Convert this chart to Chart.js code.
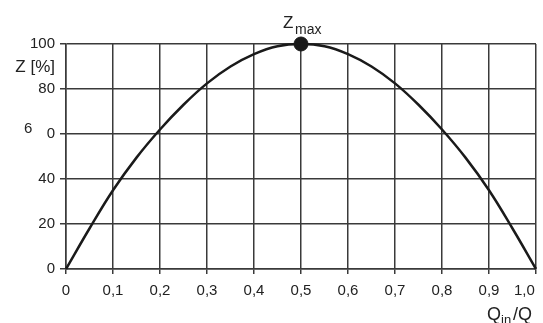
<!DOCTYPE html>
<html>
<head>
<meta charset="utf-8">
<script src="https://cdn.jsdelivr.net/npm/chart.js@4"></script>
<style>
  html, body { margin: 0; padding: 0; background: #fff; }
  #wrap { width: 543px; height: 323px; }
</style>
</head>
<body>
<div id="wrap"><canvas id="grafica_z"></canvas></div>
<script>
// values
const qRatio = [0, 0.05, 0.1, 0.15, 0.2, 0.25, 0.3, 0.35, 0.4, 0.45, 0.5,
                0.55, 0.6, 0.65, 0.7, 0.75, 0.8, 0.85, 0.9, 0.95, 1.0];
const zValues = [0, 18, 35, 49.5, 62, 73, 82.5, 90, 95.5, 99, 100,
                 99, 95.5, 90, 82.5, 73, 62, 49.5, 35, 18, 0];
const zMaxPoint = [0.5, 100];
// last label sits left of its tick in the original, padded with spaces
const xTickLabels = ["0", "0,1", "0,2", "0,3", "0,4", "0,5", "0,6", "0,7", "0,8", "0,9", "1,0\u2003\u2007"];
// the 60 label is printed as a stray "6" and a "0" in the original
const yTickLabels = ["0", "20", "40", "0", "80", "100"];

const FONT = "'Liberation Sans', Arial, sans-serif";
const GRID = "#3a3a3a";

const textos = {
  id: "textos",
  afterDraw(chart) {
    const c = chart.ctx;
    const x = chart.scales.x;
    c.save();
    c.fillStyle = "#222";
    c.textBaseline = "alphabetic";
    // Z [%]
    c.font = "17px " + FONT;
    c.textAlign = "right";
    c.fillText("Z [%]", 55, 72);
    // stray 6
    c.font = "15px " + FONT;
    c.textAlign = "left";
    c.fillText("6", 24, 133);
    // Zmax
    const px = x.getPixelForValue(zMaxPoint[0]);
    c.font = "17px " + FONT;
    c.fillText("Z", px - 18, 28);
    c.font = "14px " + FONT;
    c.fillText("max", px - 6, 34);
    // Qin/Q
    const r = chart.chartArea.right;
    c.font = "18px " + FONT;
    c.fillText("Q", r - 49, 320);
    c.font = "13px " + FONT;
    c.fillText("in", r - 35, 324);
    c.font = "18px " + FONT;
    c.fillText("/Q", r - 23, 320);
    c.restore();
  }
};

const ctx = document.getElementById("grafica_z");
const myChart = new Chart(ctx, {
  type: "line",
  data: {
    datasets: [
      {
        data: qRatio.map((q, i) => ({ x: q, y: zValues[i] })),
        borderColor: "#1a1a1a",
        borderWidth: 2.5,
        pointRadius: 0,
        tension: 0.4,
        fill: false,
        clip: false,
      },
      {
        data: [{ x: zMaxPoint[0], y: zMaxPoint[1] }],
        pointRadius: 7,
        pointBackgroundColor: "#1a1a1a",
        pointBorderColor: "#1a1a1a",
        showLine: false,
        clip: false,
      },
    ],
  },
  options: {
    responsive: true,
    maintainAspectRatio: false,
    animation: false,
    layout: {
      autoPadding: false,
      padding: { top: 44, right: 7, left: 0, bottom: 0 },
    },
    scales: {
      x: {
        type: "linear",
        min: 0,
        max: 1,
        afterFit: (s) => { s.height = 54; s.paddingLeft = 0; s.paddingRight = 0; },
        ticks: {
          stepSize: 0.1,
          autoSkip: false,
          maxRotation: 0,
          padding: 8,
          color: "#222",
          font: { family: FONT, size: 15 },
          callback: (v, i) => xTickLabels[i],
        },
        grid: { color: GRID, lineWidth: 1.5, tickLength: 5 },
        border: { color: GRID, width: 1.5 },
      },
      y: {
        min: 0,
        max: 100,
        afterFit: (s) => { s.width = 66; s.paddingTop = 0; s.paddingBottom = 0; },
        ticks: {
          stepSize: 20,
          padding: 5,
          color: "#222",
          font: { family: FONT, size: 15 },
          callback: (v, i) => yTickLabels[i],
        },
        grid: { color: GRID, lineWidth: 1.5, tickLength: 6 },
        border: { color: GRID, width: 1.5 },
      },
    },
    plugins: {
      legend: { display: false },
      tooltip: { enabled: false },
    },
  },
  plugins: [textos],
});
</script>
</body>
</html>
